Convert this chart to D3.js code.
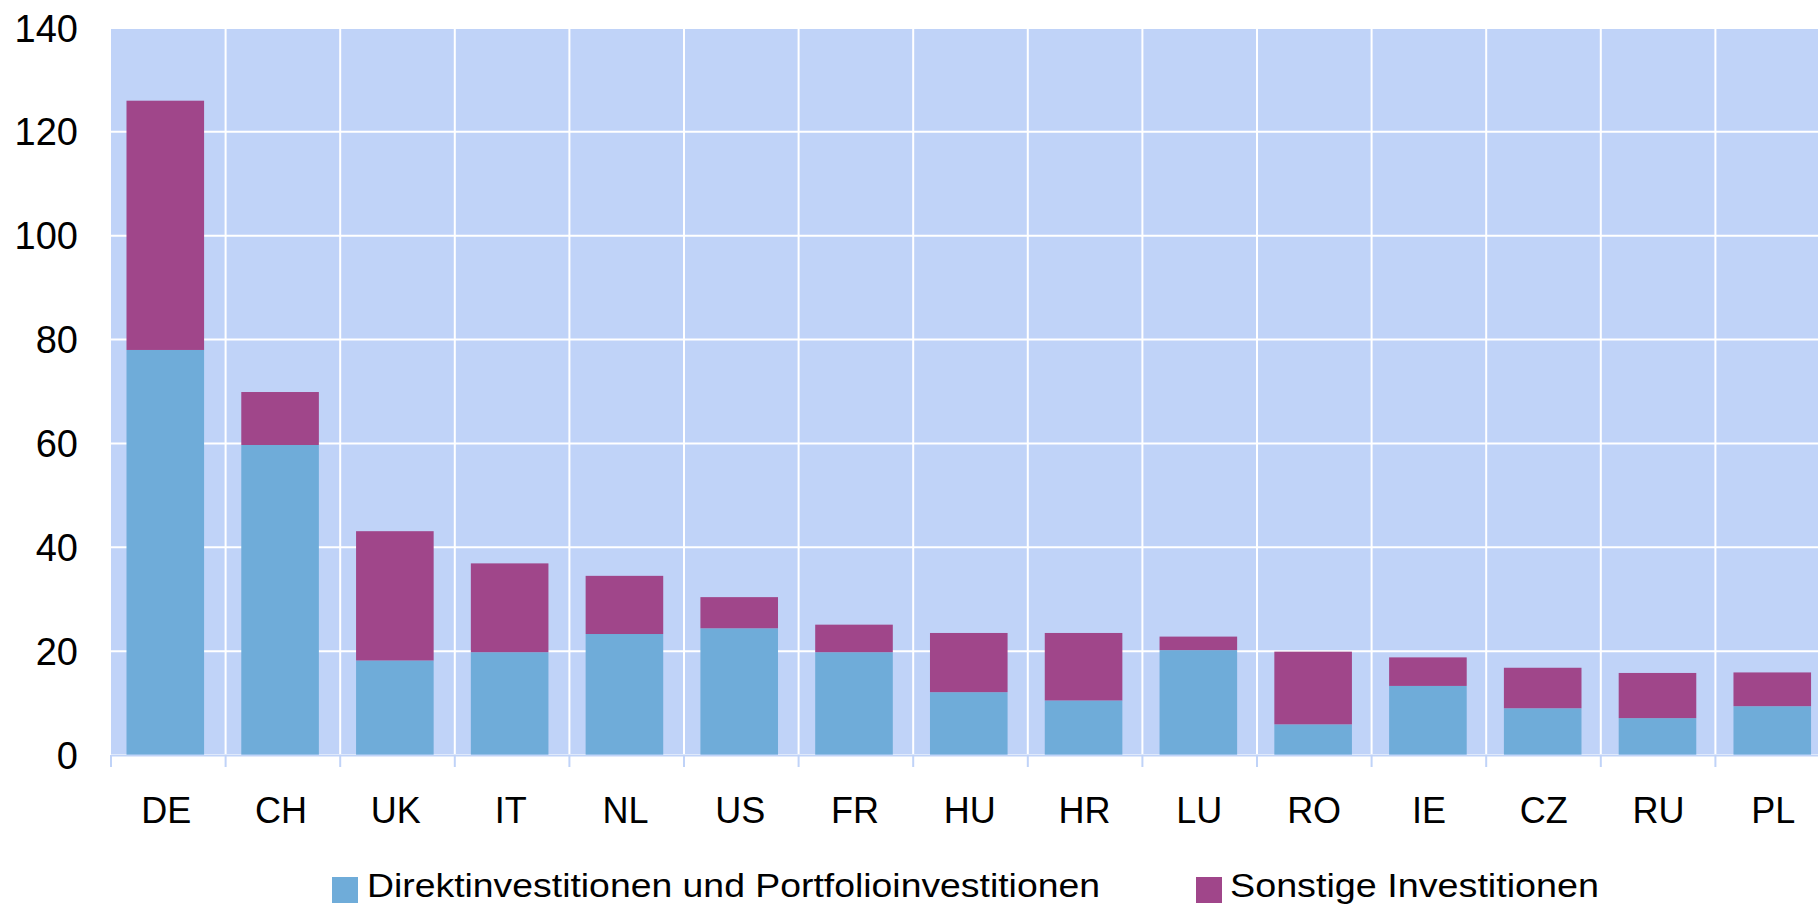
<!DOCTYPE html>
<html><head><meta charset="utf-8">
<script src="https://cdn.jsdelivr.net/npm/d3@7"></script>
<style>body{margin:0;background:#fff;overflow:hidden}svg{display:block}text{font-family:"Liberation Sans",Arial,sans-serif;fill:#000}</style>
</head><body>
<svg id="c" width="1818" height="908"></svg>
<script>
const categories = ["DE","CH","UK","IT","NL","US","FR","HU","HR","LU","RO","IE","CZ","RU","PL"];
const direkt = [78,59.7,18.2,19.8,23.3,24.4,19.8,12.1,10.5,20.2,5.9,13.3,9.0,7.1,9.4];
const sonstige = [48,10.2,24.9,17.1,11.2,6.0,5.3,11.4,13.0,2.6,14.0,5.5,7.8,8.7,6.5];
const seriesNames = ["Direktinvestitionen und Portfolioinvestitionen","Sonstige Investitionen"];
const yTicks = [0,20,40,60,80,100,120,140];

const colors = ["#6FACD9","#A0468A"];
const svg = d3.select("#c");
const L=111, R=1830, T=28, B=755;
const x = d3.scaleBand().domain(categories).range([L,R]).paddingInner(0.324).paddingOuter(0.15).align(0.45);
const y = d3.scaleLinear().domain([0,140]).range([B,T]);
const step = (R-L)/categories.length;

svg.append("rect").attr("x",L).attr("y",T).attr("width",R-L).attr("height",B-T).attr("fill","#C0D3F8");
// grid
svg.append("g").selectAll("line").data(yTicks).join("line")
  .attr("x1",L).attr("x2",R).attr("y1",d=>y(d)).attr("y2",d=>y(d))
  .attr("stroke","#fff").attr("stroke-width",2);
svg.append("g").selectAll("line").data(d3.range(1,categories.length)).join("line")
  .attr("x1",d=>L+d*step).attr("x2",d=>L+d*step).attr("y1",T).attr("y2",B)
  .attr("stroke","#fff").attr("stroke-width",2);

const data = categories.map((c,i)=>({cat:c, d:direkt[i], s:sonstige[i]}));
const stack = d3.stack().keys(["d","s"])(data);
svg.append("g").selectAll("g").data(stack).join("g").attr("fill",(d,i)=>colors[i])
  .selectAll("rect").data(d=>d).join("rect")
  .attr("x",d=>x(d.data.cat)).attr("width",x.bandwidth())
  .attr("y",d=>y(d[1])).attr("height",d=>y(d[0])-y(d[1]));

// x axis line and ticks
svg.append("line").attr("x1",L).attr("x2",R).attr("y1",B+0.5).attr("y2",B+0.5).attr("stroke","#C0D3F8").attr("stroke-width",2);
svg.append("g").selectAll("line").data(d3.range(0,categories.length+1)).join("line")
  .attr("x1",d=>L+d*step).attr("x2",d=>L+d*step).attr("y1",B).attr("y2",B+12)
  .attr("stroke","#C0D3F8").attr("stroke-width",2);

svg.append("g").selectAll("text").data(categories).join("text")
  .attr("x",d=>x(d)+x.bandwidth()/2+1).attr("y",823).attr("text-anchor","middle")
  .attr("font-size",36).text(d=>d);
svg.append("g").selectAll("text").data(yTicks).join("text")
  .attr("x",78).attr("y",d=>y(d)+13.5).attr("text-anchor","end")
  .attr("font-size",38).text(d=>d);

// legend
const leg = [{x:332,tx:367,end:1100},{x:1196,tx:1230,end:1599}];
leg.forEach((l,i)=>{
  svg.append("rect").attr("x",l.x).attr("y",877).attr("width",26).attr("height",26).attr("fill",colors[i]);
  svg.append("text").attr("x",l.tx).attr("y",897).attr("font-size",34)
    .attr("textLength",l.end-l.tx).attr("lengthAdjust","spacingAndGlyphs").text(seriesNames[i]);
});
</script>
</body></html>
